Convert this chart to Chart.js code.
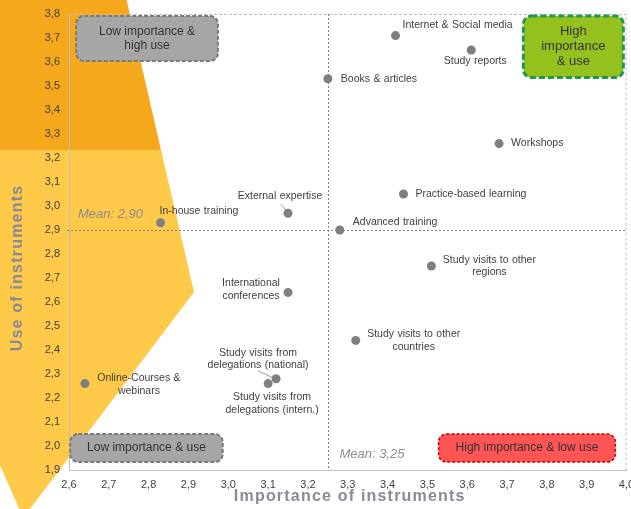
<!DOCTYPE html>
<html>
<head>
<meta charset="utf-8">
<script src="https://cdn.jsdelivr.net/npm/chart.js@4"></script>
<style>
  html, body { margin: 0; padding: 0; background: #fff; }
  #wrap { width: 631px; height: 509px; }
</style>
</head>
<body>
<div id="wrap"><canvas id="matrixChart" width="631" height="509"></canvas></div>
<script>
// instruments, importance (x) and use (y)
const instruments = [
  'Internet & Social media', 'Study reports', 'Books & articles', 'Workshops',
  'Practice-based learning', 'External expertise', 'In-house training', 'Advanced training',
  'Study visits to other regions', 'International conferences', 'Study visits to other countries',
  'Study visits from delegations (national)', 'Study visits from delegations (intern.)',
  'Online-Courses & webinars'
];
const importance = [3.42, 3.61, 3.25, 3.68, 3.44, 3.15, 2.83, 3.28, 3.51, 3.15, 3.32, 3.12, 3.10, 2.64];
const use = [3.71, 3.65, 3.53, 3.26, 3.05, 2.97, 2.93, 2.90, 2.75, 2.64, 2.44, 2.28, 2.26, 2.26];
const meanImportance = 3.25;
const meanUse = 2.90;
const xRange = [2.6, 4.0];
const yRange = [1.9, 3.8];

// label placement (pixels from the point)
const labelLayout = {
  'Internet & Social media': { dx: 7, dy: -10, align: 'left', lines: ['Internet & Social media'] },
  'Study reports': { dx: 4, dy: 11, align: 'center', lines: ['Study reports'] },
  'Books & articles': { dx: 13, dy: 0, align: 'left', lines: ['Books & articles'] },
  'Workshops': { dx: 12, dy: 0, align: 'left', lines: ['Workshops'] },
  'Practice-based learning': { dx: 12, dy: 0, align: 'left', lines: ['Practice-based learning'] },
  'External expertise': { dx: -8, dy: -17, align: 'center', lines: ['External expertise'], leader: [-7, -9, -2, -3] },
  'In-house training': { dx: -1, dy: -12, align: 'left', lines: ['In-house training'] },
  'Advanced training': { dx: 13, dy: -8, align: 'left', lines: ['Advanced training'] },
  'Study visits to other regions': { dx: 58, dy: -6, align: 'center', lines: ['Study visits to other', 'regions'] },
  'International conferences': { dx: -37, dy: -9, align: 'center', lines: ['International', 'conferences'] },
  'Study visits to other countries': { dx: 58, dy: -6, align: 'center', lines: ['Study visits to other', 'countries'] },
  'Study visits from delegations (national)': { dx: -18, dy: -26, align: 'center', lines: ['Study visits from', 'delegations (national)'], leader: [-18, -8, -3, -1] },
  'Study visits from delegations (intern.)': { dx: 4, dy: 14, align: 'center', lines: ['Study visits from', 'delegations (intern.)'] },
  'Online-Courses & webinars': { dx: 54, dy: -5, align: 'center', lines: ['Online-Courses &', 'webinars'] }
};

// quadrant boxes in data units
const quadrants = [
  { x1: 2.618, x2: 2.974, y1: 3.792, y2: 3.604, fill: '#a6a6a6', stroke: '#7a7a7a', lw: 2, dash: [4, 2], font: '12px "Liberation Sans"', lines: ['Low importance &', 'high use'], lh: 14 },
  { x1: 3.741, x2: 3.992, y1: 3.792, y2: 3.535, fill: '#95c11f', stroke: '#1e9a50', lw: 3, dash: [6, 3], font: '13px "Liberation Sans"', lines: ['High', 'importance', '& use'], lh: 15 },
  { x1: 2.603, x2: 2.986, y1: 2.05, y2: 1.933, fill: '#a6a6a6', stroke: '#7a7a7a', lw: 2, dash: [4, 2], font: '12px "Liberation Sans"', lines: ['Low importance & use'], lh: 14 },
  { x1: 3.528, x2: 3.972, y1: 2.05, y2: 1.933, fill: '#ff5555', stroke: '#c00000', lw: 1.5, dash: [3, 2], font: '12px "Liberation Sans"', lines: ['High importance & low use'], lh: 14 }
];

// orange arrow shape behind the left side, in data units
const darkShape = [[2.40, 3.87], [2.743, 3.87], [2.831, 3.233], [2.40, 3.233]];
const lightShape = [[2.40, 3.233], [2.831, 3.233], [2.914, 2.642], [2.485, 1.70], [2.40, 2.02]];

const fmt = v => v.toFixed(1).replace('.', ',');

function rrect(ctx, x, y, w, h, r) {
  ctx.beginPath();
  ctx.moveTo(x + r, y);
  ctx.arcTo(x + w, y, x + w, y + h, r);
  ctx.arcTo(x + w, y + h, x, y + h, r);
  ctx.arcTo(x, y + h, x, y, r);
  ctx.arcTo(x, y, x + w, y, r);
  ctx.closePath();
}

const matrixPlugin = {
  id: 'matrixPlugin',
  beforeDraw(chart) {
    const { ctx, scales: { x, y } } = chart;
    ctx.save();
    [[darkShape, '#f5a81c'], [lightShape, '#ffc94a']].forEach(([shape, color]) => {
      ctx.beginPath();
      shape.forEach(([px, py], i) => {
        const X = x.getPixelForValue(px), Y = y.getPixelForValue(py);
        if (i === 0) ctx.moveTo(X, Y); else ctx.lineTo(X, Y);
      });
      ctx.closePath();
      ctx.fillStyle = color;
      ctx.fill();
    });
    ctx.restore();
  },
  beforeDatasetsDraw(chart) {
    const { ctx, chartArea: a, scales: { x, y } } = chart;
    ctx.save();
    // dashed frame top and right
    ctx.strokeStyle = '#bdbdbd';
    ctx.lineWidth = 1;
    ctx.setLineDash([3, 2]);
    ctx.beginPath();
    ctx.moveTo(a.left, a.top + 0.5);
    ctx.lineTo(a.right - 0.5, a.top + 0.5);
    ctx.lineTo(a.right - 0.5, a.bottom);
    ctx.stroke();

    // quadrant boxes
    quadrants.forEach(q => {
      const X1 = x.getPixelForValue(q.x1), X2 = x.getPixelForValue(q.x2);
      const Y1 = y.getPixelForValue(q.y1), Y2 = y.getPixelForValue(q.y2);
      rrect(ctx, X1, Y1, X2 - X1, Y2 - Y1, 8);
      ctx.fillStyle = q.fill;
      ctx.fill();
      ctx.setLineDash(q.dash);
      ctx.lineWidth = q.lw;
      ctx.strokeStyle = q.stroke;
      ctx.stroke();
      ctx.setLineDash([]);
      ctx.fillStyle = '#333333';
      ctx.font = q.font;
      ctx.textAlign = 'center';
      ctx.textBaseline = 'middle';
      const cy = (Y1 + Y2) / 2 - (q.lines.length - 1) * q.lh / 2;
      q.lines.forEach((t, i) => ctx.fillText(t, (X1 + X2) / 2, cy + i * q.lh));
    });

    // mean lines
    ctx.strokeStyle = '#808080';
    ctx.lineWidth = 1;
    ctx.setLineDash([2, 2]);
    const mx = Math.round(x.getPixelForValue(meanImportance)) + 0.5;
    const my = Math.round(y.getPixelForValue(meanUse)) + 0.5;
    ctx.beginPath();
    ctx.moveTo(mx, a.top);
    ctx.lineTo(mx, a.bottom);
    ctx.moveTo(a.left - 2, my);
    ctx.lineTo(a.right, my);
    ctx.stroke();
    ctx.setLineDash([]);

    ctx.fillStyle = '#8c8c8c';
    ctx.font = 'italic 13px "Liberation Sans"';
    ctx.textAlign = 'left';
    ctx.textBaseline = 'middle';
    ctx.fillText('Mean: ' + meanUse.toFixed(2).replace('.', ','), a.left + 9, my - 16);
    ctx.fillText('Mean: ' + meanImportance.toFixed(2).replace('.', ','), mx + 11, a.bottom - 16);
    ctx.restore();
  },
  afterDatasetsDraw(chart) {
    const { ctx } = chart;
    const meta = chart.getDatasetMeta(0);
    ctx.save();
    ctx.font = '10.5px "Liberation Sans"';
    ctx.wordSpacing = '0.5px';
    ctx.fillStyle = '#404040';
    ctx.textBaseline = 'middle';
    meta.data.forEach((pt, i) => {
      const lay = labelLayout[instruments[i]];
      if (!lay) return;
      ctx.textAlign = lay.align;
      lay.lines.forEach((t, k) => ctx.fillText(t, pt.x + lay.dx, pt.y + lay.dy + k * 12.5));
      if (lay.leader) {
        const [x1, y1, x2, y2] = lay.leader;
        ctx.strokeStyle = '#808080';
        ctx.lineWidth = 0.8;
        ctx.beginPath();
        ctx.moveTo(pt.x + x1, pt.y + y1);
        ctx.lineTo(pt.x + x2, pt.y + y2);
        ctx.stroke();
      }
    });
    ctx.restore();
  },
  afterDraw(chart) {
    const { ctx, chartArea: a } = chart;
    ctx.save();
    ctx.font = 'bold 16px "Liberation Sans"';
    ctx.letterSpacing = '1.2px';
    ctx.fillStyle = '#8a8a94';
    ctx.textAlign = 'center';
    ctx.textBaseline = 'middle';
    ctx.fillText('Importance of instruments', (a.left + a.right) / 2 + 2, 497);
    ctx.translate(18, 268);
    ctx.rotate(-Math.PI / 2);
    ctx.fillText('Use of instruments', 0, 0);
    ctx.restore();
  }
};

window.addEventListener('load', () => {
  const ctx = document.getElementById('matrixChart').getContext('2d');
  new Chart(ctx, {
    type: 'scatter',
    data: {
      datasets: [{
        data: importance.map((v, i) => ({ x: v, y: use[i] })),
        backgroundColor: '#7f7f7f',
        borderWidth: 0,
        pointRadius: 4.5,
        pointHoverRadius: 4.5
      }]
    },
    options: {
      responsive: false,
      animation: false,
      layout: { padding: { top: 14, right: 4, left: 0, bottom: 0 } },
      plugins: { legend: { display: false }, tooltip: { enabled: false } },
      scales: {
        x: {
          type: 'linear',
          min: xRange[0],
          max: xRange[1],
          afterFit: s => { s.height = 39; s.paddingLeft = 0; s.paddingRight = 0; },
          grid: { display: false, drawTicks: false },
          border: { display: true, color: '#bfbfbf' },
          ticks: {
            stepSize: 0.1, autoSkip: false, maxRotation: 0, padding: 8,
            color: '#404040', font: { family: 'Liberation Sans', size: 11 },
            callback: v => fmt(v)
          }
        },
        y: {
          type: 'linear',
          min: yRange[0],
          max: yRange[1],
          afterFit: s => { s.width = 69; s.paddingTop = 0; s.paddingBottom = 0; },
          grid: { display: false, drawTicks: false },
          border: { display: true, color: '#bfbfbf' },
          ticks: {
            stepSize: 0.1, autoSkip: false, padding: 9,
            color: '#404040', font: { family: 'Liberation Sans', size: 11 },
            callback: v => fmt(v)
          }
        }
      }
    },
    plugins: [matrixPlugin]
  });
});
</script>
</body>
</html>
